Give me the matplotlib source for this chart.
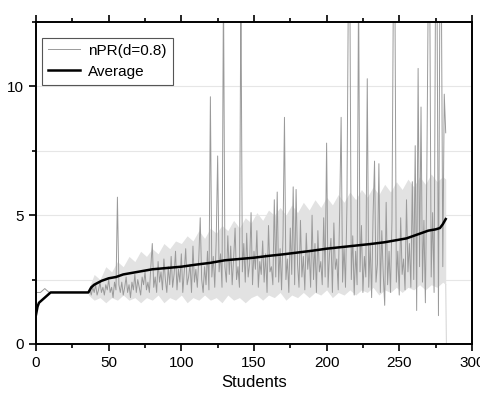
import numpy as np
import matplotlib
matplotlib.use("Agg")
import matplotlib.pyplot as plt
from matplotlib.ticker import MultipleLocator

plt.rcParams['font.family'] = ['Liberation Sans', 'DejaVu Sans']

# nPR(d=0.8) per student, students 0..282 (values above 12.5 run off the top)
npr = [
    2.0, 2.0, 2.0, 2.0, 2.05, 2.1, 2.15, 2.1, 2.05, 2.0,
    2.0, 2.0, 2.0, 2.0, 2.0, 2.0, 2.0, 2.0, 2.0, 2.0,
    2.0, 2.0, 2.0, 2.0, 2.0, 2.0, 2.0, 2.0, 2.0, 2.0,
    2.0, 2.0, 2.0, 2.0, 2.0, 2.0,
    2.0, 2.1, 1.9, 2.2, 2.0, 2.3, 1.9, 2.1, 2.4, 2.0,
    2.2, 1.9, 2.3, 2.1, 2.5, 2.0, 2.2, 1.8, 2.4, 2.1,
    5.7, 2.3, 2.0, 2.4, 1.9, 2.2, 2.6, 2.0, 2.3, 1.8,
    2.4, 2.1, 2.7, 2.0, 2.5, 2.2, 1.9, 2.6, 2.3, 2.8,
    2.1, 2.4, 2.0, 3.0, 3.9, 2.2, 2.6, 2.0, 3.2, 2.4,
    2.8, 2.1, 3.3, 2.5, 2.0, 3.0, 2.3, 3.4, 2.2, 2.7,
    3.6, 2.1, 2.9, 2.4, 3.5, 2.0, 2.8, 3.7, 2.3, 2.6,
    3.1, 2.0, 3.8, 2.4, 2.9, 2.2, 3.3, 4.9, 2.5, 2.0,
    3.0, 2.3, 3.6, 2.1, 9.6, 2.6, 3.4, 2.2, 4.0, 7.3,
    2.8, 3.5, 2.2, 14.0, 3.0, 2.4, 4.2, 2.7, 3.8, 2.3,
    3.3, 4.5, 2.5, 3.0, 2.2, 14.0, 2.8, 3.9, 2.4, 4.3,
    2.6, 3.1, 5.1, 2.3, 3.6, 2.9, 4.4, 2.2, 3.2, 2.7,
    4.0, 2.4, 3.5, 2.0, 4.6, 2.8, 3.0, 2.3, 5.6, 2.6,
    5.9, 2.4, 3.7, 2.1, 4.2, 8.8, 2.5, 3.3, 2.0, 4.5,
    2.7, 6.1, 2.3, 6.0, 3.1, 2.2, 4.8, 2.6, 3.4, 2.1,
    4.3, 2.9, 3.6, 2.2, 5.0, 2.5, 3.9, 2.0, 4.4, 2.8,
    3.2, 2.3, 4.9, 2.6, 7.8, 2.2, 3.5, 4.1, 2.0, 4.7,
    2.9, 3.3, 2.1, 5.2, 8.8, 2.4, 3.8, 2.2, 5.4, 14.0,
    14.0, 2.5, 4.2, 1.9, 3.6, 2.3, 14.0, 2.8, 4.6, 2.0,
    3.4, 2.6, 10.3, 2.2, 3.9, 1.8, 5.0, 7.1, 2.4, 3.1,
    7.0, 2.0, 4.4, 2.7, 1.5, 5.5, 2.3, 3.6, 2.0, 4.8,
    14.0, 14.0, 2.4, 3.6, 1.9, 4.9, 2.7, 3.3, 2.1, 5.6,
    2.8, 3.9, 2.2, 6.3, 2.5, 7.7, 1.3, 10.7, 3.0, 9.2,
    2.4, 4.8, 1.6, 6.6, 14.0, 14.0, 2.6, 5.1, 2.0, 14.0,
    14.0, 1.1, 14.0, 14.0, 3.0, 9.7, 8.2,
]
students = np.arange(len(npr))

# spread band around nPR
band_x = [36, 40, 44, 48, 52, 56, 60, 64, 68, 72, 76, 80, 84, 88, 92, 96,
          100, 104, 108, 112, 116, 120, 124, 128, 132, 136, 140, 144, 148,
          152, 156, 160, 164, 168, 172, 176, 180, 184, 188, 192, 196, 200,
          204, 208, 212, 216, 220, 224, 228, 232, 236, 240, 244, 248, 252,
          256, 260, 264, 268, 272, 276, 280, 282]
band_hi = [2.1, 2.7, 2.5, 3.0, 2.8, 3.2, 3.0, 3.4, 3.2, 3.6, 3.4, 3.7, 3.5,
           3.9, 3.7, 4.0, 3.9, 4.2, 4.0, 4.4, 4.1, 4.5, 4.3, 4.6, 4.4, 4.8,
           4.5, 4.9, 4.7, 5.1, 4.8, 5.2, 5.0, 5.3, 5.0, 5.4, 5.1, 5.5, 5.2,
           5.6, 5.3, 5.7, 5.4, 5.8, 5.5, 5.9, 5.6, 6.0, 5.7, 6.1, 5.8, 6.2,
           5.9, 6.3, 6.0, 6.4, 6.1, 6.5, 6.2, 6.6, 6.3, 6.5, 6.4]
band_lo = [1.9, 1.7, 1.8, 1.6, 1.8, 1.7, 1.9, 1.7, 1.8, 1.6, 1.8, 1.7, 1.9,
           1.6, 1.8, 1.7, 1.9, 1.6, 1.8, 1.7, 1.9, 1.7, 1.8, 1.6, 1.9, 1.7,
           1.8, 1.6, 1.8, 1.9, 1.7, 1.9, 1.8, 2.0, 1.7, 1.9, 1.8, 2.0, 1.8,
           2.0, 1.9, 2.1, 1.8, 2.0, 1.9, 2.1, 1.9, 2.1, 2.0, 2.2, 1.9, 2.1,
           2.0, 2.2, 2.0, 2.2, 2.1, 2.3, 2.1, 2.3, 2.2, 2.4, 2.3]
tail_x = [282, 282.5, 300]
tail_y = [2.3, 0, 0]

# running average
avg_x = [0, 1, 2, 4, 6, 8, 10, 12, 36, 38, 40, 45, 50, 55, 60, 65, 70, 80,
         90, 100, 110, 120, 130, 140, 150, 160, 170, 180, 190, 200, 210, 220,
         230, 240, 250, 255, 260, 265, 270, 275, 278, 280, 282]
avg_y = [1.15, 1.45, 1.6, 1.7, 1.8, 1.9, 2.0, 2.0, 2.0, 2.2, 2.3, 2.45, 2.55,
         2.6, 2.7, 2.75, 2.8, 2.9, 2.95, 3.0, 3.08, 3.15, 3.25, 3.3, 3.35,
         3.42, 3.48, 3.55, 3.62, 3.7, 3.76, 3.82, 3.88, 3.95, 4.05, 4.1, 4.2,
         4.3, 4.4, 4.45, 4.5, 4.65, 4.85]

fig = plt.figure(figsize=(4.81, 3.94), dpi=100)
ax = fig.add_axes([0.075, 0.127, 0.906, 0.817])

for g in [2.5, 5, 7.5, 10]:
    ax.axhline(g, color='#e6e6e6', lw=0.8, zorder=0)

ax.fill_between(band_x, band_lo, band_hi, color='#e2e2e2', lw=0, zorder=1)
ax.plot(tail_x, tail_y, color='#d8d8d8', lw=0.8, zorder=1)
ax.plot(students, npr, color='#9a9a9a', lw=0.7, label='nPR(d=0.8)', zorder=2)
ax.plot(avg_x, avg_y, color='black', lw=1.8, label='Average', zorder=3)

ax.set_xlim(0, 300)
ax.set_ylim(0, 12.5)
ax.xaxis.set_major_locator(MultipleLocator(50))
ax.xaxis.set_minor_locator(MultipleLocator(25))
ax.yaxis.set_major_locator(MultipleLocator(5))
ax.yaxis.set_minor_locator(MultipleLocator(2.5))
ax.tick_params(which='both', direction='out', top=True, right=False,
               labelsize=11, width=1.2)
ax.tick_params(which='major', length=5)
ax.tick_params(which='minor', length=3)
for s in ax.spines.values():
    s.set_linewidth(1.4)

ax.set_xlabel('Students', fontsize=12)

leg = ax.legend(loc='upper left', fontsize=11, fancybox=False,
                framealpha=1, edgecolor='#555555', borderpad=0.4,
                handlelength=2.1, handletextpad=0.5, labelspacing=0.45,
                borderaxespad=0, bbox_to_anchor=(0.014, 0.952))
leg.get_frame().set_linewidth(0.8)

fig.savefig('out.png', dpi=100)
